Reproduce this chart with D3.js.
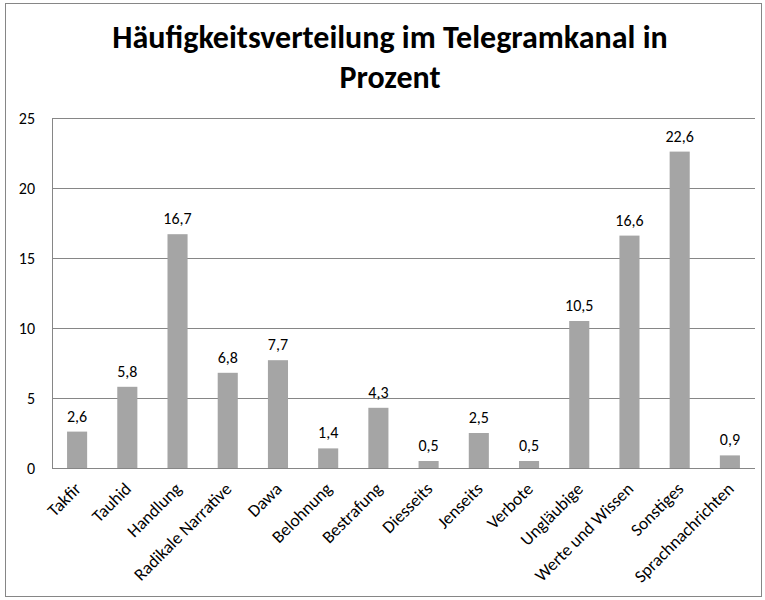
<!DOCTYPE html>
<html lang="de">
<head>
<meta charset="UTF-8">
<title>Häufigkeitsverteilung im Telegramkanal in Prozent</title>
<script src="https://d3js.org/d3.v7.min.js"></script>
<style>
  body { margin: 0; background: #fff; }
  svg text { font-family: Carlito, Calibri, Lato, sans-serif; fill: #000; }
  .title { font-weight: bold; font-size: 32px; }
  .tick-label { font-size: 16px; }
  .cat { font-size: 17.5px; }
  .val { font-size: 16px; }
</style>
</head>
<body>
<svg id="chart"></svg>
<script>
// Daten
var categories = ["Takfir", "Tauhid", "Handlung", "Radikale Narrative", "Dawa", "Belohnung",
  "Bestrafung", "Diesseits", "Jenseits", "Verbote", "Ungläubige", "Werte und Wissen",
  "Sonstiges", "Sprachnachrichten"];
var values = [2.6, 5.8, 16.7, 6.8, 7.7, 1.4, 4.3, 0.5, 2.5, 0.5, 10.5, 16.6, 22.6, 0.9];
var yTicks = [0, 5, 10, 15, 20, 25];
var titleLines = ["Häufigkeitsverteilung im Telegramkanal in", "Prozent"];

var width = 765, height = 600;
var margin = { top: 118, right: 10, bottom: 132, left: 52 };

var svg = d3.select("#chart")
  .attr("width", width)
  .attr("height", height);

// Rahmen
svg.append("rect")
  .attr("x", 5.5).attr("y", 3.5)
  .attr("width", width - 9).attr("height", height - 7)
  .attr("fill", "#fff")
  .attr("stroke", "#868686");

// Titel
svg.selectAll("text.title")
  .data(titleLines)
  .enter()
  .append("text")
  .attr("class", "title")
  .attr("x", 390)
  .attr("y", (d, i) => 48 + i * 40)
  .attr("text-anchor", "middle")
  .text(d => d);

var x = d3.scaleBand()
  .domain(categories)
  .range([margin.left, width - margin.right])
  .paddingInner(0.6)
  .paddingOuter(0.3);

var y = d3.scaleLinear()
  .domain([0, 25])
  .range([height - margin.bottom, margin.top]);

// Gitterlinien
svg.selectAll("line.grid")
  .data(yTicks)
  .enter()
  .append("line")
  .attr("x1", margin.left)
  .attr("x2", width - margin.right)
  .attr("y1", d => Math.round(y(d)) + 0.5)
  .attr("y2", d => Math.round(y(d)) + 0.5)
  .attr("stroke", "#868686");

// Y-Achse
svg.append("line")
  .attr("x1", margin.left + 0.5).attr("x2", margin.left + 0.5)
  .attr("y1", y(25)).attr("y2", y(0))
  .attr("stroke", "#868686");

svg.selectAll("text.ytick")
  .data(yTicks)
  .enter()
  .append("text")
  .attr("class", "tick-label")
  .attr("x", 35)
  .attr("y", d => y(d) + 6)
  .attr("text-anchor", "end")
  .text(d => d);

// Balken
svg.selectAll("rect.bar")
  .data(values)
  .enter()
  .append("rect")
  .attr("x", (d, i) => x(categories[i]))
  .attr("y", d => y(d))
  .attr("width", x.bandwidth())
  .attr("height", d => y(0) - y(d))
  .attr("fill", "#a5a5a5");

// Werte
svg.selectAll("text.val")
  .data(values)
  .enter()
  .append("text")
  .attr("class", "val")
  .attr("x", (d, i) => x(categories[i]) + x.bandwidth() / 2)
  .attr("y", d => y(d) - 10)
  .attr("text-anchor", "middle")
  .text(d => String(d).replace(".", ","));

// Kategorien
svg.selectAll("text.cat")
  .data(categories)
  .enter()
  .append("text")
  .attr("class", "cat")
  .attr("text-anchor", "end")
  .attr("transform", d => {
    var cx = x(d) + x.bandwidth() / 2 + 5;
    return "translate(" + cx + "," + (y(0) + 22) + ") rotate(-45)";
  })
  .text(d => d);
</script>
</body>
</html>
